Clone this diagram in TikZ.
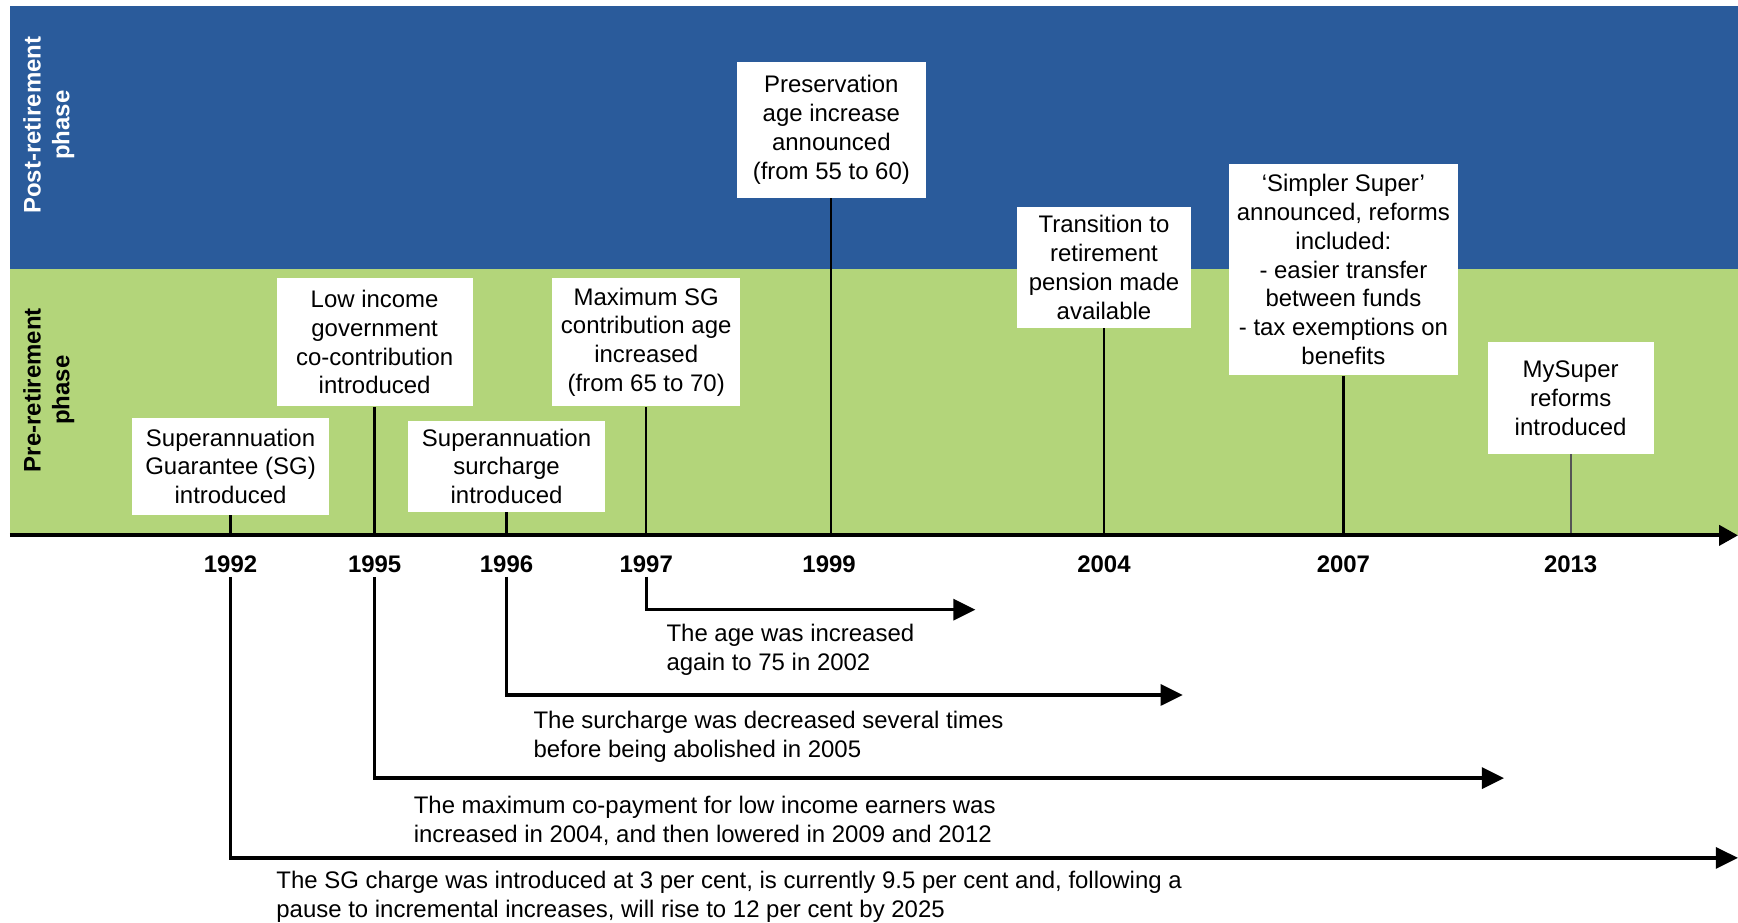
\documentclass[tikz,border=0pt]{standalone}
\usepackage{fontspec}
\setmainfont{Liberation Sans}
\usetikzlibrary{
  arrows.meta,
  positioning
}
\definecolor{postblue}{HTML}{2A5B9B}
\definecolor{pregreen}{HTML}{B3D57A}
\definecolor{stemgray}{HTML}{555555}

\begin{document}
\begin{tikzpicture}[
  x=0.02cm, y=-0.02cm,
  txt/.style={font=\fontsize{12.3}{14.8}\selectfont},
  event/.style={txt, fill=white, align=center, inner sep=0pt, anchor=south},
  year/.style={font=\fontsize{12.3}{14.8}\selectfont\bfseries, inner sep=2pt},
  note/.style={txt, align=left, anchor=north west, inner sep=0pt},
  phase/.style={font=\fontsize{12.3}{14.8}\selectfont\bfseries, rotate=90,
    align=center, inner sep=0pt},
  stem/.style={line width=1.2pt},
  bracket/.style={line width=1.7pt, -{Triangle[length=0.40cm, width=0.38cm]}},
  axisline/.style={line width=2pt, -{Triangle[length=0.34cm, width=0.36cm]}}
]

  \useasboundingbox (0,0) rectangle (1568,832);

  % phase bands
  \fill[postblue] (9,5) rectangle (1568,243);
  \fill[pregreen] (9,243) rectangle (1568,483);

  \node[phase, text=white] (post) at (44,113) {Post-retirement\\phase};
  \node[phase] (pre) at (44,352) {Pre-retirement\\phase};

  % events
  \node[event, minimum width=3.56cm, minimum height=1.76cm] (sg) at (208,465)
    {Superannuation\\Guarantee (SG)\\introduced};
  \node[event, minimum width=3.54cm, minimum height=2.32cm] (lowinc) at (338,367)
    {Low income\\government\\co-contribution\\introduced};
  \node[event, minimum width=3.54cm, minimum height=1.64cm] (surch) at (457,462)
    {Superannuation\\surcharge\\introduced};
  \node[event, minimum width=3.40cm, minimum height=2.32cm] (maxsg) at (583,367)
    {Maximum SG\\contribution age\\increased\\(from 65 to 70)};
  \node[event, minimum width=3.42cm, minimum height=2.46cm] (preserv) at (750,179)
    {Preservation\\age increase\\announced\\(from 55 to 60)};
  \node[event, minimum width=3.14cm, minimum height=2.18cm] (trans) at (996,296)
    {Transition to\\retirement\\pension made\\available};
  \node[event, minimum width=4.14cm, minimum height=3.82cm] (simpler) at (1212,339)
    {‘Simpler Super’\\announced, reforms\\included:\\- easier transfer\\between funds\\- tax exemptions on\\benefits};
  \node[event, minimum width=3.00cm, minimum height=2.02cm] (mysuper) at (1417,410)
    {MySuper\\reforms\\introduced};

  % axis
  \coordinate (ax0) at (9,483);
  \coordinate (ax1) at (1568,483);
  \coordinate (t92) at (208,483);
  \coordinate (t95) at (338,483);
  \coordinate (t96) at (457,483);
  \coordinate (t97) at (583,483);
  \coordinate (t99) at (750,483);
  \coordinate (t04) at (996,483);
  \coordinate (t07) at (1212,483);
  \coordinate (t13) at (1417,483);

  \draw[stem] (sg) -- (t92);
  \draw[stem] (lowinc) -- (t95);
  \draw[stem] (surch) -- (t96);
  \draw[stem] (maxsg) -- (t97);
  \draw[stem] (preserv) -- (t99);
  \draw[stem] (trans) -- (t04);
  \draw[stem] (simpler) -- (t07);
  \draw[stem, stemgray, line width=0.9pt] (mysuper) -- (t13);

  \draw[axisline] (ax0) -- (ax1);

  % years
  \node[year] (y92) at (208,509) {1992};
  \node[year] (y95) at (338,509) {1995};
  \node[year] (y96) at (457,509) {1996};
  \node[year] (y97) at (583,509) {1997};
  \node[year] (y99) at (748,509) {1999};
  \node[year] (y04) at (996,509) {2004};
  \node[year] (y07) at (1212,509) {2007};
  \node[year] (y13) at (1417,509) {2013};

  % later changes
  \coordinate (e97) at (880,550);
  \coordinate (e96) at (1067,627);
  \coordinate (e95) at (1357,702);
  \coordinate (e92) at (1568,774);

  \draw[bracket] (y97) |- (e97);
  \draw[bracket] (y96) |- (e96);
  \draw[bracket] (y95) |- (e95);
  \draw[bracket] (y92) |- (e92);

  \node[note] (n97) at (601,563)
    {The age was increased\\again to 75 in 2002};
  \node[note] (n96) at (481,641)
    {The surcharge was decreased several times\\before being abolished in 2005};
  \node[note] (n95) at (373,718)
    {The maximum co-payment for low income earners was\\increased in 2004, and then lowered in 2009 and 2012};
  \node[note] (n92) at (249,786)
    {The SG charge was introduced at 3 per cent, is currently 9.5 per cent and, following a\\pause to incremental increases, will rise to 12 per cent by 2025};

\end{tikzpicture}
\end{document}
